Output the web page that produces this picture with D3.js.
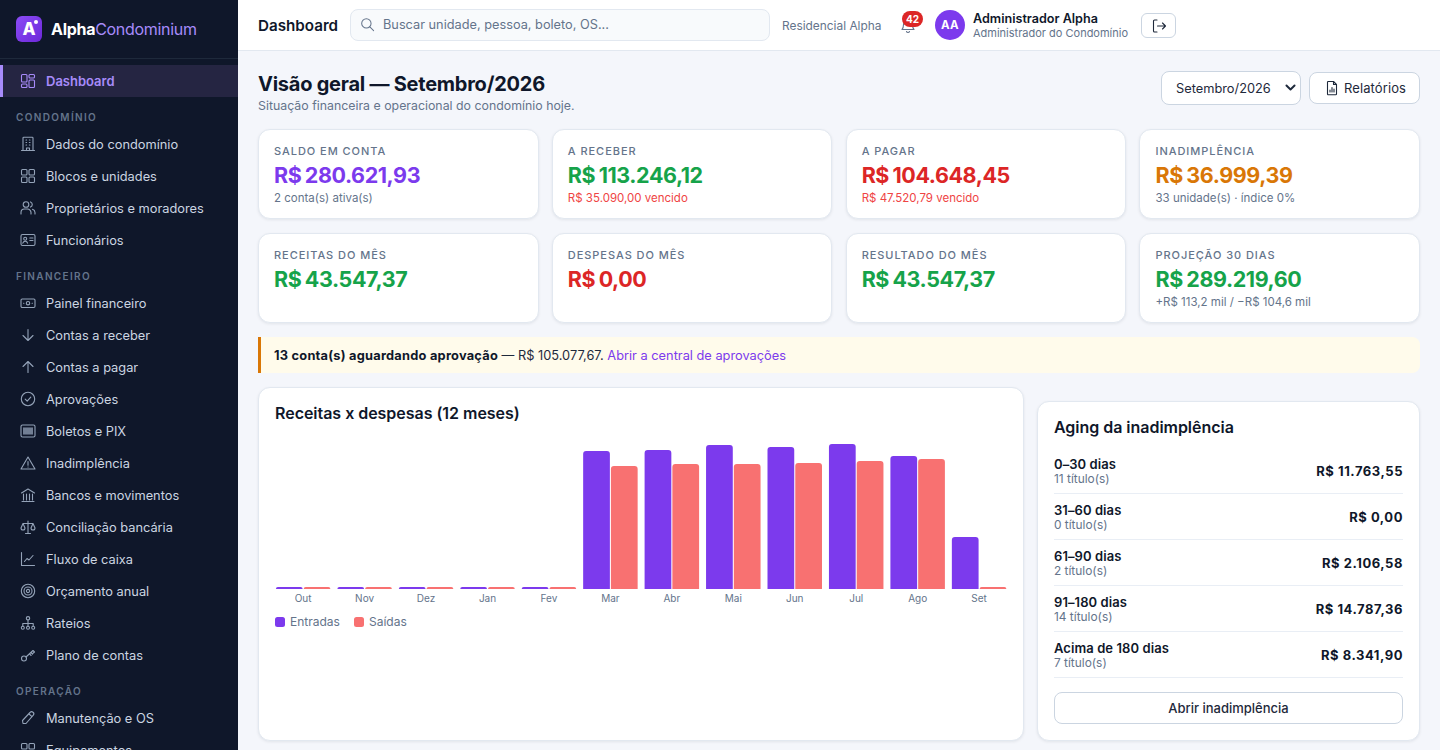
<!DOCTYPE html>
<html lang="pt-BR">
<head>
<meta charset="utf-8">
<title>Dashboard</title>
<script src="https://cdn.jsdelivr.net/npm/d3@7"></script>
<style>
* { box-sizing: border-box; }
html, body { margin: 0; height: 100%; overflow: hidden; }
body { font-family: Inter, sans-serif; background: #f4f6fb; color: #0f172a; width: 1440px; height: 750px; position: relative; }
svg.ico { width: 16px; height: 16px; fill: none; stroke: currentColor; stroke-width: 1.1; stroke-linecap: round; stroke-linejoin: round; display: block; flex: none; }

#side { position: absolute; left: 0; top: 0; width: 238px; height: 750px; background: #0f172a; overflow: hidden; }
.brand { height: 59px; border-bottom: 1px solid #1e293b; display: flex; align-items: center; padding-left: 16px; }
.logo { width: 26px; height: 26px; border-radius: 6px; background: linear-gradient(135deg, #8b4cf6, #6d28d9); position: relative; color: #fff; font-weight: 800; font-size: 17px; line-height: 27px; text-align: center; }
.logo i { position: absolute; right: 4px; top: 4px; width: 4px; height: 4px; border-radius: 50%; background: #fff; }
.brand b { margin-left: 9px; font-size: 16px; font-weight: 700; color: #fff; letter-spacing: -.3px; }
.brand span { font-weight: 400; color: #a78bfa; }
#nav { padding-top: 6px; }
.nav-item { height: 32px; display: flex; align-items: center; padding-left: 20px; color: #cbd5e1; font-size: 12.8px; }
.nav-item svg { color: #94a3b8; margin-right: 10px; }
.nav-item.on { background: #252542; color: #a78bfa; font-weight: 600; font-size: 13px; box-shadow: inset 3px 0 0 #a78bfa; }
.nav-item.on svg { color: #a78bfa; }
.nav-sec { height: 31px; padding: 14px 0 0 16px; font-size: 10px; line-height: 12px; font-weight: 600; letter-spacing: 1.35px; color: #64748b; }

#top { position: absolute; left: 238px; top: 0; width: 1202px; height: 51px; background: #fff; border-bottom: 1px solid #e2e8f0; }
#top > * { position: absolute; }
.t-title { left: 20px; top: 16px; font-size: 15.2px; line-height: 20px; font-weight: 600; }
.search { left: 112px; top: 9px; width: 420px; height: 32px; background: #f8fafc; border: 1px solid #e2e8f0; border-radius: 8px; color: #64748b; font-size: 12.75px; line-height: 30px; padding-left: 32px; }
.search svg { position: absolute; left: 9px; top: 7px; width: 15px; height: 15px; }
.cond { left: 544px; top: 18px; font-size: 11.9px; line-height: 16px; color: #64748b; }
.bell { left: 662px; top: 18px; color: #64748b; }
.badge { left: 664px; top: 11px; width: 21px; height: 16px; border-radius: 8px; background: #dc2626; color: #fff; font-size: 10px; font-weight: 700; line-height: 16px; text-align: center; }
.avatar { left: 697px; top: 10px; width: 30px; height: 30px; border-radius: 50%; background: #7c3aed; color: #fff; font-size: 11.5px; font-weight: 700; line-height: 30px; text-align: center; letter-spacing: .4px; }
.uname { left: 735px; top: 11px; font-size: 12.6px; line-height: 16px; font-weight: 600; white-space: nowrap; }
.urole { left: 735px; top: 26px; font-size: 11px; line-height: 14px; color: #64748b; white-space: nowrap; }
.logout { left: 903px; top: 13px; width: 35px; height: 25px; border: 1px solid #cbd5e1; border-radius: 6px; padding: 4px 0 0 9px; color: #1e293b; }

#main { position: absolute; left: 258px; top: 51px; width: 1162px; }
h1 { position: absolute; left: 0; top: 18px; margin: 0; font-size: 20px; line-height: 30px; font-weight: 700; letter-spacing: -.24px; white-space: nowrap; }
.lead { position: absolute; left: 0; top: 47px; font-size: 12.35px; line-height: 16px; color: #64748b; }
.sel { position: absolute; left: 903px; top: 20px; width: 140px; height: 34px; background: #fff; border: 1px solid #cbd5e1; border-radius: 8px; font-size: 12.8px; line-height: 33px; padding-left: 14px; color: #1e293b; }
.sel svg { position: absolute; right: 3px; top: 9px; width: 13px; height: 13px; stroke-width: 2.4; }
.rep { position: absolute; left: 1051px; top: 21px; width: 111px; height: 32px; background: #fff; border: 1px solid #cbd5e1; border-radius: 8px; font-size: 13px; line-height: 30px; padding-left: 34px; color: #1e293b; letter-spacing: .1px; }
.rep svg { position: absolute; left: 14px; top: 7px; }

#cards { position: absolute; left: 0; top: 78px; width: 1162px; display: grid; grid-template-columns: repeat(4, 280.5px); grid-auto-rows: 90px; column-gap: 13.33px; row-gap: 14px; }
.card { background: #fff; border: 1px solid #e2e8f0; border-radius: 12px; box-shadow: 0 1px 3px rgba(15, 23, 42, .08); }
.kpi { padding: 14px 15px; }
.kpi .l { font-size: 11px; line-height: 14px; font-weight: 500; letter-spacing: .95px; color: #64748b; white-space: nowrap; }
.kpi .v { font-size: 21.5px; line-height: 30px; margin-top: 2px; font-weight: 700; letter-spacing: -.42px; word-spacing: -1.2px; white-space: nowrap; }
.kpi .s { font-size: 11.5px; line-height: 14px; margin-top: 1px; color: #64748b; white-space: nowrap; }

#alert { position: absolute; left: 0; top: 286px; width: 1162px; height: 36px; background: #fffbeb; border-left: 3px solid #d97706; border-radius: 0 8px 8px 0; padding-left: 13px; font-size: 12.8px; line-height: 37px; color: #1e293b; white-space: nowrap; }
#alert b { font-weight: 700; color: #0f172a; letter-spacing: .24px; }
#alert span { color: #7c3aed; }

#chart-card { position: absolute; left: 0; top: 336px; width: 766px; height: 354px; }
#aging-card { position: absolute; left: 779px; top: 350px; width: 383px; height: 340px; padding: 0 16px; }
.card h3 { margin: 0; font-size: 16px; line-height: 22px; font-weight: 600; letter-spacing: -.03px; }
#chart-card h3 { position: absolute; left: 16px; top: 14px; }
#chart-svg { position: absolute; left: -1px; top: -1px; }
#aging-card h3 { padding-top: 14px; height: 46px; }
.row { height: 46px; border-bottom: 1px solid #e9eef5; position: relative; }
.row .a { position: absolute; left: 0; top: 8px; font-size: 13px; line-height: 16px; font-weight: 600; letter-spacing: .08px; }
.row .b { position: absolute; left: 0; top: 24px; font-size: 11.9px; line-height: 14px; color: #64748b; }
.row .c { position: absolute; right: 0; top: 14px; font-size: 13px; line-height: 18px; font-weight: 700; letter-spacing: .55px; }
.open { position: absolute; left: 16px; top: 290px; width: 349px; height: 32px; border: 1px solid #cbd5e1; border-radius: 8px; text-align: center; font-size: 13px; line-height: 30px; color: #1e293b; font-weight: 500; }
</style>
</head>
<body>
<div id="side">
  <div class="brand"><div class="logo">A<i></i></div><b>Alpha<span>Condominium</span></b></div>
  <div id="nav"></div>
</div>
<div id="top">
  <div class="t-title">Dashboard</div>
  <div class="search"><svg class="ico" viewBox="0 0 16 16"><circle cx="6.8" cy="6.8" r="5"/><path d="M10.5 10.5L14.5 14.5"/></svg>Buscar unidade, pessoa, boleto, OS...</div>
  <div class="cond">Residencial Alpha</div>
  <svg class="ico bell" viewBox="0 0 16 16"><path d="M8 2a4.5 4.5 0 0 0-4.5 4.5c0 3.5-1.5 5-1.5 5h12s-1.5-1.5-1.5-5A4.5 4.5 0 0 0 8 2zM6.5 13.5a1.6 1.6 0 0 0 3 0"/></svg>
  <div class="badge">42</div>
  <div class="avatar">AA</div>
  <div class="uname">Administrador Alpha</div>
  <div class="urole">Administrador do Condomínio</div>
  <div class="logout"><svg class="ico" viewBox="0 0 16 16"><path d="M6 2H3.5a1 1 0 0 0-1 1v10a1 1 0 0 0 1 1H6M6.5 8h8M11.5 5l3 3-3 3"/></svg></div>
</div>
<div id="main">
  <h1>Visão geral — Setembro/2026</h1>
  <div class="lead">Situação financeira e operacional do condomínio hoje.</div>
  <div class="sel">Setembro/2026<svg class="ico" viewBox="0 0 16 16"><path d="M3 5.5L8 10.5L13 5.5"/></svg></div>
  <div class="rep"><svg class="ico" viewBox="0 0 16 16"><path d="M4 1.5h5.5L12.5 4.5V14a.8.8 0 0 1-.8.8H4.3a.8.8 0 0 1-.8-.8V2.3a.8.8 0 0 1 .5-.8zM9.5 1.5V4.5H12.5M6 12V10M8 12V7.5M10 12V9"/></svg>Relatórios</div>
  <div id="cards"></div>
  <div id="alert"><b>13 conta(s) aguardando aprovação</b> — R$ 105.077,67. <span>Abrir a central de aprovações</span></div>
  <div id="chart-card" class="card"><svg id="chart-svg" width="766" height="354"></svg><h3>Receitas x despesas (12 meses)</h3></div>
  <div id="aging-card" class="card"><h3>Aging da inadimplência</h3><div id="rows"></div><div class="open">Abrir inadimplência</div></div>
</div>
<script>
// chart data
const months = ["Out", "Nov", "Dez", "Jan", "Fev", "Mar", "Abr", "Mai", "Jun", "Jul", "Ago", "Set"];
const entradas = [0, 0, 0, 0, 0, 115600, 116400, 120600, 118900, 121400, 111400, 43547];
const saidas = [0, 0, 0, 0, 0, 103000, 104700, 104700, 105500, 107200, 108900, 0];
const legendNames = ["Entradas", "Saídas"];

// aging list
const agingLabels = ["0–30 dias", "31–60 dias", "61–90 dias", "91–180 dias", "Acima de 180 dias"];
const agingCounts = ["11 título(s)", "0 título(s)", "2 título(s)", "14 título(s)", "7 título(s)"];
const agingValues = ["R$ 11.763,55", "R$ 0,00", "R$ 2.106,58", "R$ 14.787,36", "R$ 8.341,90"];

// kpi cards
const kpiLabels = ["SALDO EM CONTA", "A RECEBER", "A PAGAR", "INADIMPLÊNCIA", "RECEITAS DO MÊS", "DESPESAS DO MÊS", "RESULTADO DO MÊS", "PROJEÇÃO 30 DIAS"];
const kpiValues = ["R$ 280.621,93", "R$ 113.246,12", "R$ 104.648,45", "R$ 36.999,39", "R$ 43.547,37", "R$ 0,00", "R$ 43.547,37", "R$ 289.219,60"];
const kpiColors = ["#7c3aed", "#16a34a", "#dc2626", "#d97706", "#16a34a", "#dc2626", "#16a34a", "#16a34a"];
const kpiSubs = ["2 conta(s) ativa(s)", "R$ 35.090,00 vencido", "R$ 47.520,79 vencido", "33 unidade(s) · índice 0%", "", "", "", "+R$ 113,2 mil / −R$ 104,6 mil"];

// sidebar: [text, icon], icon null means section label
const navItems = [
  ["Dashboard", "dash"], ["CONDOMÍNIO", null], ["Dados do condomínio", "building"], ["Blocos e unidades", "grid"],
  ["Proprietários e moradores", "people"], ["Funcionários", "badge"], ["FINANCEIRO", null], ["Painel financeiro", "cash"],
  ["Contas a receber", "down"], ["Contas a pagar", "up"], ["Aprovações", "check"], ["Boletos e PIX", "barcode"],
  ["Inadimplência", "warn"], ["Bancos e movimentos", "bank"], ["Conciliação bancária", "scales"], ["Fluxo de caixa", "line"],
  ["Orçamento anual", "target"], ["Rateios", "tree"], ["Plano de contas", "key"], ["OPERAÇÃO", null],
  ["Manutenção e OS", "tool"], ["Equipamentos", "grid"]
];

const icons = {
  dash: '<rect x="1.5" y="1.5" width="5.5" height="7.5" rx="1"/><rect x="1.5" y="11" width="5.5" height="3.5" rx="1"/><rect x="9" y="1.5" width="5.5" height="3.5" rx="1"/><rect x="9" y="7" width="5.5" height="7.5" rx="1"/>',
  building: '<path d="M3 14.5V2a.8.8 0 0 1 .8-.8h8.4a.8.8 0 0 1 .8.8v12.5M1.5 14.5h13M6 4h.6M9.4 4h.6M6 6.5h.6M9.4 6.5h.6M6 9h.6M9.4 9h.6M6.5 14.5V12h3v2.5"/>',
  grid: '<rect x="1.5" y="1.5" width="5.5" height="5.5" rx="1"/><rect x="9" y="1.5" width="5.5" height="5.5" rx="1"/><rect x="1.5" y="9" width="5.5" height="5.5" rx="1"/><rect x="9" y="9" width="5.5" height="5.5" rx="1"/>',
  people: '<circle cx="6" cy="4.5" r="2.8"/><path d="M1 14v-1.5A3.5 3.5 0 0 1 4.5 9h3a3.5 3.5 0 0 1 3.5 3.5V14M10.5 1.9a2.8 2.8 0 0 1 0 5.2M12.5 9.3a3.5 3.5 0 0 1 2.5 3.2V14"/>',
  badge: '<rect x="1" y="2.5" width="14" height="11" rx="1.5"/><circle cx="5.2" cy="6.7" r="1.5"/><path d="M2.8 11.2c.4-1.4 1.3-2 2.4-2s2 .6 2.4 2M9.8 6h3.2M9.8 8.5h3.2"/>',
  cash: '<rect x="1" y="4" width="14" height="8.5" rx="1.2"/><circle cx="8" cy="8.2" r="1.7"/><path d="M3.6 8.2h.3M12.1 8.2h.3"/>',
  down: '<path d="M8 2.5v11M3 8.5l5 5 5-5"/>',
  up: '<path d="M8 13.5v-11M3 7.5l5-5 5 5"/>',
  check: '<circle cx="8" cy="8" r="6.7"/><path d="M5.2 8.2L7.2 10.2L10.8 6.2"/>',
  barcode: '<rect x="1" y="2" width="14" height="12" rx="1.5"/><path d="M4 5v6M6 5v6M8 5v6M10 5v6M12 5v6" stroke-width="1.5"/>',
  warn: '<path d="M8 2L15 14H1Z"/><path d="M8 6.5v3.8M8 12h.1"/>',
  bank: '<path d="M1.5 6L8 2l6.500 4M2 14.500h12M3.500 7v6M6.500 7v6M9.500 7v6M12.500 7v6"/>',
  scales: '<path d="M8 2v12M5.500 14.500h5M3 4.500h10M3 4.500L1 9a2 2 0 0 0 4 0zM13 4.500L11 9a2 2 0 0 0 4 0z"/>',
  line: '<path d="M1.500 1.500v13h13M4.500 10.500L7 7.500L9 9L13 4.500"/>',
  target: '<circle cx="8" cy="8" r="6.700"/><circle cx="8" cy="8" r="4"/><circle cx="8" cy="8" r="1.600"/>',
  tree: '<circle cx="8" cy="3.300" r="1.700"/><circle cx="2.800" cy="12.700" r="1.500"/><circle cx="8" cy="12.700" r="1.500"/><circle cx="13.200" cy="12.700" r="1.500"/><path d="M8 5v6M2.800 11V8.500h10.400V11"/>',
  key: '<circle cx="4" cy="11.500" r="2.500"/><path d="M6 10l7-6.500 1.500 1.500-1.500 1.200M9.500 6.800l1.600 1.700M11 5.500l1.500 1.600"/>',
  tool: '<path d="M3 13.500L2.500 10.500L10 2.500a2 2 0 0 1 3.300 2.700L6 13.500z M9 4l3 2.700"/>'
};

// sidebar
d3.select("#nav").selectAll("div").data(navItems).join("div")
  .attr("class", (d, i) => d[1] === null ? "nav-sec" : (i === 0 ? "nav-item on" : "nav-item"))
  .html(d => d[1] === null ? d[0] : `<svg class="ico" viewBox="0 0 16 16">${icons[d[1]]}</svg>${d[0]}`);

// kpi cards
let kpi = d3.select("#cards").selectAll("div").data(kpiLabels).join("div").attr("class", "card kpi");
kpi.append("div").attr("class", "l").text(d => d);
kpi.append("div").attr("class", "v").text((d, i) => kpiValues[i]).style("color", (d, i) => kpiColors[i]);
kpi.append("div").attr("class", "s").text((d, i) => kpiSubs[i])
  .style("color", (d, i) => kpiSubs[i].includes("vencido") ? "#ef4444" : null);

// aging rows
let rows = d3.select("#rows").selectAll("div").data(agingLabels).join("div").attr("class", "row");
rows.append("div").attr("class", "a").text(d => d);
rows.append("div").attr("class", "b").text((d, i) => agingCounts[i]);
rows.append("div").attr("class", "c").text((d, i) => agingValues[i]);

// bar chart (svg origin is the top left corner of the card)
const svg = d3.select("#chart-svg");
const x0 = d3.scaleBand().domain(months).range([17.9, 748.35]).paddingInner(0.1131).paddingOuter(0);
const x1 = d3.scaleBand().domain(legendNames).range([0, x0.bandwidth()]).paddingInner(0.037);
const y = d3.scaleLinear().domain([0, 121400]).range([202, 57]);
const barColors = d3.scaleOrdinal().domain(legendNames).range(["#7c3aed", "#f87171"]);
const minBar = 2;

// rounded top corners only, zero months still get a thin bar
function barPath(name, month, value) {
  let left = x0(month) + x1(name), w = x1.bandwidth();
  let top = Math.min(y(value), y(0) - minBar), r = Math.min(3, y(0) - top);
  return `M${left},${y(0)}V${top + r}Q${left},${top} ${left + r},${top}H${left + w - r}Q${left + w},${top} ${left + w},${top + r}V${y(0)}Z`;
}

legendNames.forEach(function(name, s) {
  let vals = s === 0 ? entradas : saidas;
  svg.append("g").selectAll("path").data(months).join("path")
    .attr("d", (m, i) => barPath(name, m, vals[i]))
    .attr("fill", barColors(name));
});

let axis = svg.append("g").attr("transform", `translate(0,${y(0)})`)
  .call(d3.axisBottom(x0).tickSize(0).tickPadding(6));
axis.select(".domain").remove();
axis.selectAll("text").attr("font-family", "Inter, sans-serif").attr("font-size", 10).attr("fill", "#64748b");

// legend
const legendX = d3.scaleOrdinal().domain(legendNames).range([17, 96]);
let leg = svg.append("g").selectAll("g").data(legendNames).join("g")
  .attr("transform", d => `translate(${legendX(d)},230)`);
leg.append("rect").attr("width", 10).attr("height", 10).attr("rx", 2.5).attr("fill", d => barColors(d));
leg.append("text").attr("x", 15).attr("y", 8.500).attr("font-size", 12).attr("fill", "#64748b").text(d => d);
</script>
</body>
</html>
